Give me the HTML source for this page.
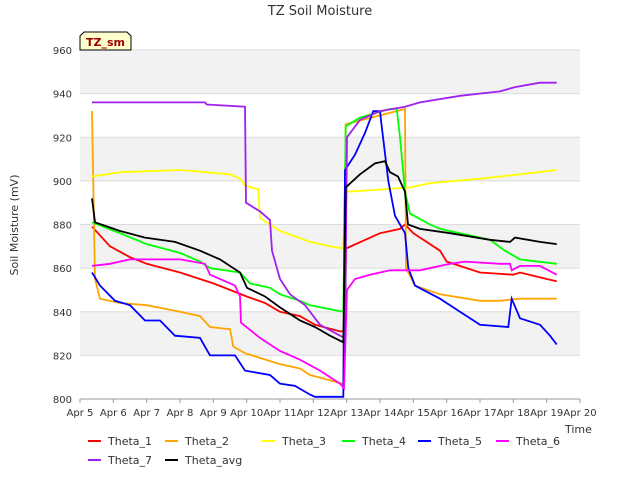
<!DOCTYPE html>
<html><head><meta charset="utf-8"><style>
body{margin:0;background:#fff;font-family:"Liberation Sans","DejaVu Sans",sans-serif}
svg text{font-family:"DejaVu Sans","Liberation Sans",sans-serif}
</style></head><body>
<svg id="c" width="640" height="480" xmlns="http://www.w3.org/2000/svg">
<text x="320" y="15" text-anchor="middle" font-size="13" fill="#333">TZ Soil Moisture</text>
<text transform="translate(18,225) rotate(-90)" text-anchor="middle" font-size="11" fill="#333">Soil Moisture (mV)</text>
<text x="565" y="433" font-size="11" fill="#333">Time</text>
<g id="bands"></g><g id="grid"></g><g id="ticks"></g><g id="series"></g><g id="legend"></g>
<g>
<path d="M80,50 L80,36 L84,32 L127,32 L131,36 L131,50 Z" fill="#ffffcc" stroke="#000" stroke-width="1"/>
<text x="86" y="46" font-size="11" font-weight="bold" fill="#990000">TZ_sm</text></g>
</svg>
<script>
const yTicks=[800,820,840,860,880,900,920,940,960];
const xTickLabels=["Apr 5","Apr 6","Apr 7","Apr 8","Apr 9","Apr 10","Apr 11","Apr 12","Apr 13","Apr 14","Apr 15","Apr 16","Apr 17","Apr 18","Apr 19","Apr 20"];
const seriesNames=["Theta_1","Theta_2","Theta_3","Theta_4","Theta_5","Theta_6","Theta_7","Theta_avg"];
const seriesColors=["#ff0000","#ffa500","#ffff00","#00ff00","#0000ff","#ff00ff","#a020f0","#000000"];
// pixel-x-ish points converted: [day offset from Apr 5, value]
const theta1=[[0.36,879],[0.9,870],[1.5,865],[2,862],[3,858],[4,853],[4.5,850],[5,847],[5.55,844],[6,840],[6.6,838],[7.05,834],[7.8,831],[7.95,831],[7.98,869],[9,876],[9.6,878],[9.75,880],[10,876],[10.8,868],[11,863],[12,858],[13,857],[13.2,858],[14,855],[14.3,854]];
const theta2=[[0.36,932],[0.45,855],[0.6,846],[1.2,844],[2,843],[3,840],[3.6,838],[3.9,833],[4.5,832],[4.6,824],[4.95,821],[6,816],[6.6,814],[6.9,811],[7.65,808],[7.9,807],[7.97,926],[9,930],[9.75,933],[9.78,860],[10.05,852],[10.8,848],[12,845],[12.6,845],[13.2,846],[14.3,846]];
const theta3=[[0.36,902],[1.2,904],[3,905],[4.5,903],[4.8,901],[4.95,898],[5.35,896],[5.4,883],[6,877],[6.9,872],[7.5,870],[7.9,869],[7.97,895],[9,896],[9.9,897],[10.5,899],[12,901],[13.2,903],[14.3,905]];
const theta4=[[0.36,881],[1.2,876],[2,871],[3,867],[3.6,863],[3.9,860],[4.8,858],[5.1,853],[5.7,851],[6,848],[6.6,845],[6.9,843],[7.9,840],[7.97,925],[8.4,929],[9.3,933],[9.5,933],[9.6,920],[9.75,895],[9.9,885],[10.5,880],[10.8,878],[11.4,876],[12.3,873],[12.75,868],[13.2,864],[14.3,862]];
const theta5=[[0.36,858],[0.6,852],[1.05,845],[1.5,843],[1.95,836],[2.4,836],[2.85,829],[3.6,828],[3.9,820],[4.65,820],[4.95,813],[5.7,811],[6,807],[6.45,806],[6.9,802],[7.05,801],[7.9,801],[7.95,905],[8.25,912],[8.55,922],[8.8,932],[9,932],[9.05,925],[9.25,900],[9.45,884],[9.75,876],[9.85,860],[10.05,852],[10.8,846],[11.4,840],[12,834],[12.85,833],[12.95,846],[13.2,837],[13.8,834],[14.1,829],[14.3,825]];
const theta6=[[0.36,861],[0.9,862],[1.5,864],[3,864],[3.75,862],[3.9,857],[4.65,852],[4.8,847],[4.83,835],[5.4,828],[6,822],[6.6,818],[7.2,813],[7.8,807],[7.92,805],[8.01,850],[8.25,855],[8.7,857],[9.3,859],[10.2,859],[11.1,862],[11.55,863],[12.6,862],[12.9,862],[12.95,859],[13.2,861],[13.8,861],[14.3,857]];
const theta7=[[0.36,936],[3.75,936],[3.8,935],[4.95,934],[4.98,890],[5.4,886],[5.7,882],[5.76,868],[6,855],[6.3,848],[6.75,843],[7.2,834],[7.8,829],[7.95,828],[8.01,920],[8.4,928],[9,932],[9.75,934],[10.2,936],[11.4,939],[12.6,941],[13.05,943],[13.8,945],[14.3,945]];
const thetaAvg=[[0.36,892],[0.45,881],[1.2,877],[1.95,874],[2.85,872],[3.6,868],[4.2,864],[4.8,858],[5.01,851],[5.55,847],[6,842],[6.6,836],[7.05,833],[7.5,829],[7.9,826],[7.97,897],[8.4,903],[8.85,908],[9.15,909],[9.3,904],[9.54,902],[9.75,895],[9.84,880],[10.2,878],[11.1,876],[12.3,873],[12.9,872],[13.05,874],[13.8,872],[14.3,871]];
const allSeries=[theta1,theta2,theta3,theta4,theta5,theta6,theta7,thetaAvg];

const X0=80,X1=580,Y0=399,Y1=50,DMIN=0,DMAX=15,VMIN=800,VMAX=960;
const xs=d=>X0+(d-DMIN)/(DMAX-DMIN)*(X1-X0);
const ys=v=>Y0-(v-VMIN)/(VMAX-VMIN)*(Y0-Y1);
const NS="http://www.w3.org/2000/svg";
function mk(tag,attrs,parent){const e=document.createElementNS(NS,tag);for(const k in attrs)e.setAttribute(k,attrs[k]);document.getElementById(parent).appendChild(e);return e;}
for(let i=0;i<yTicks.length-1;i++){
  if(i%2===1){const r=mk('rect',{x:X0,y:ys(yTicks[i+1]),width:X1-X0,height:ys(yTicks[i])-ys(yTicks[i+1]),fill:'#f2f2f2'},'bands');
  
  }
}
yTicks.forEach(v=>{
  const l=mk('line',{x1:X0,x2:X1,y1:ys(v),y2:ys(v),stroke:'#dcdcdc','stroke-width':1},'grid');
  
  
  const t=mk('text',{x:X0-8,y:ys(v)+4,'text-anchor':'end','font-size':10,fill:'#333'},'ticks');t.textContent=v;
  
  
});
xTickLabels.forEach((s,i)=>{
  const l=mk('line',{x1:xs(i),x2:xs(i),y1:Y0,y2:Y0+4,stroke:'#999'},'ticks');
  
  
  const t=mk('text',{x:xs(i),y:Y0+17,'text-anchor':'middle','font-size':10,fill:'#333'},'ticks');t.textContent=s;
  
  
});
const ax=mk('line',{x1:X0,x2:X1,y1:Y0,y2:Y0,stroke:'#999'},'ticks');


allSeries.forEach((s,i)=>{
  const p=mk('polyline',{points:s.map(q=>xs(q[0]).toFixed(1)+','+ys(q[1]).toFixed(1)).join(' '),fill:'none',stroke:seriesColors[i],'stroke-width':1.8},'series');
  
  
});
const legPos=[[88,441],[165,441],[262,441],[342,441],[418,441],[496,441],[88,460],[165,460]];
seriesNames.forEach((n,i)=>{
  const [lx,ly]=legPos[i];
  const m=mk('line',{x1:lx,x2:lx+13,y1:ly,y2:ly,stroke:seriesColors[i],'stroke-width':2},'legend');
  
  
  const t=mk('text',{x:lx+20,y:ly+4,'font-size':11,fill:'#333'},'legend');t.textContent=n;
  
  
});
</script>
</body></html>
